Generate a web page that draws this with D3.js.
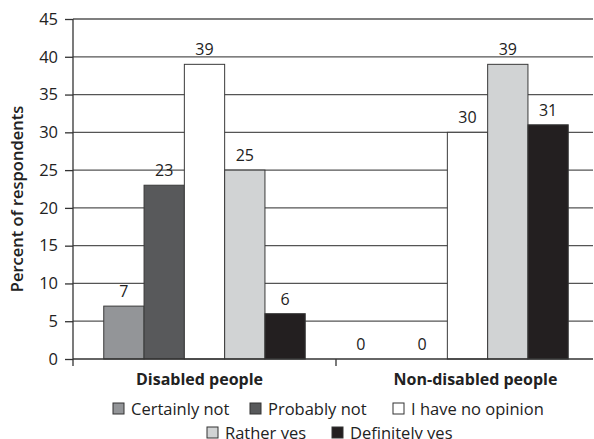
<!DOCTYPE html>
<html>
<head>
<meta charset="utf-8">
<script src="https://cdn.jsdelivr.net/npm/d3@7"></script>
<style>
  body { margin: 0; background: #fff; }
  svg { font-family: "Open Sans", "Noto Sans", sans-serif; }
</style>
</head>
<body>
<div id="chart"></div>
<script>
// groups and answers
var groups = ["Disabled people", "Non-disabled people"];
var answers = ["Certainly not", "Probably not", "I have no opinion", "Rather yes", "Definitely yes"];
var colors = ["#939598", "#58595b", "#ffffff", "#d1d3d4", "#231f20"];

// percent of respondents for each answer, one array per group
var disabledValues = [7, 23, 39, 25, 6];
var nonDisabledValues = [0, 0, 30, 39, 31];

var yTicks = [0, 5, 10, 15, 20, 25, 30, 35, 40, 45];

var svgWidth = 594;
var svgHeight = 439;

var margin = { top: 19, right: 1, bottom: 80, left: 73 };
var width = svgWidth - margin.left - margin.right;
var height = svgHeight - margin.top - margin.bottom;

var svg = d3.select("#chart")
  .append("svg")
  .attr("width", svgWidth)
  .attr("height", svgHeight);

var g = svg.append("g")
  .attr("transform", `translate(${margin.left}, ${margin.top})`);

var data = [];
groups.forEach(function (grp, gi) {
  var vals = gi === 0 ? disabledValues : nonDisabledValues;
  answers.forEach(function (a, ai) {
    data.push({ group: grp, answer: a, value: vals[ai], idx: ai });
  });
});

var x0 = d3.scaleBand()
  .domain(groups)
  .range([0, 526]);

var x1 = d3.scaleBand()
  .domain(answers)
  .range([0, 201.5]);

var y = d3.scaleLinear()
  .domain([0, 45])
  .range([height, 0]);

// horizontal grid lines
g.selectAll(".grid")
  .data(yTicks.slice(1))
  .enter()
  .append("line")
  .attr("x1", 0)
  .attr("x2", width)
  .attr("y1", d => y(d))
  .attr("y2", d => y(d))
  .attr("stroke", "#555")
  .attr("stroke-width", 1.3);

// bars
var groupOffset = (x0.bandwidth() - 201.5) / 2;
g.selectAll(".bar")
  .data(data)
  .enter()
  .append("rect")
  .attr("x", d => x0(d.group) + groupOffset + x1(d.answer))
  .attr("y", d => y(d.value))
  .attr("width", x1.bandwidth())
  .attr("height", d => height - y(d.value))
  .attr("fill", d => colors[d.idx])
  .attr("stroke", "#3a3a3a")
  .attr("stroke-width", d => d.value > 0 ? 1 : 0);

// value labels (zeros sit a bit left, as in the original)
g.selectAll(".lbl")
  .data(data)
  .enter()
  .append("text")
  .attr("x", d => x0(d.group) + groupOffset + x1(d.answer) + x1.bandwidth() / 2 - (d.value === 0 ? 26 - d.idx * 21 : 0))
  .attr("y", d => y(d.value) - 9)
  .attr("text-anchor", "middle")
  .attr("font-size", 16)
  .attr("fill", "#222")
  .text(d => d.value);

// y axis
var yAxis = d3.axisLeft(y)
  .tickValues(yTicks)
  .tickSize(8)
  .tickPadding(7);

var yG = g.append("g").call(yAxis);
yG.select(".domain").attr("stroke", "#333").attr("stroke-width", 1.3).attr("d", `M0,${height + 7}V0`);
yG.selectAll(".tick line").attr("stroke", "#333").attr("stroke-width", 1.3);
yG.selectAll(".tick text").attr("font-size", 16.5).attr("fill", "#222")
  .attr("font-family", "'Open Sans', sans-serif");

// x axis
var xG = g.append("g")
  .attr("transform", `translate(0, ${height})`);
xG.append("line")
  .attr("x1", 0).attr("x2", width)
  .attr("stroke", "#333").attr("stroke-width", 1.3);
xG.selectAll(".xtick")
  .data(groups.slice(1))
  .enter()
  .append("line")
  .attr("x1", d => x0(d)).attr("x2", d => x0(d))
  .attr("y1", 0).attr("y2", 7)
  .attr("stroke", "#333").attr("stroke-width", 1.3);
xG.selectAll(".xlabel")
  .data(groups)
  .enter()
  .append("text")
  .attr("x", (d, i) => x0(d) + x0.bandwidth() / 2 + (i === 0 ? -5 : 8))
  .attr("y", 26)
  .attr("text-anchor", "middle")
  .attr("font-size", 16)
  .attr("font-weight", "bold")
  .attr("fill", "#222")
  .text(d => d);

// y axis title
svg.append("text")
  .attr("transform", `translate(23, ${margin.top + height / 2 + 10}) rotate(-90)`)
  .attr("text-anchor", "middle")
  .attr("font-size", 16.5)
  .attr("font-weight", 600)
  .attr("fill", "#222")
  .text("Percent of respondents");

// legend, two rows
var legendRows = [[0, 1, 2], [3, 4]];
var legendX = [[113, 250, 393], [207, 332]];
var legendY = [408, 432];
legendRows.forEach(function (row, ri) {
  row.forEach(function (ai, k) {
    var lg = svg.append("g")
      .attr("transform", `translate(${legendX[ri][k]}, ${legendY[ri]})`);
    lg.append("rect")
      .attr("x", 0).attr("y", -5)
      .attr("width", 11).attr("height", 11)
      .attr("fill", colors[ai])
      .attr("stroke", "#333").attr("stroke-width", 1);
    lg.append("text")
      .attr("x", 18).attr("y", 6.5)
      .attr("font-size", 16.5)
      .attr("fill", "#222")
      .text(answers[ai]);
  });
});
</script>
</body>
</html>
